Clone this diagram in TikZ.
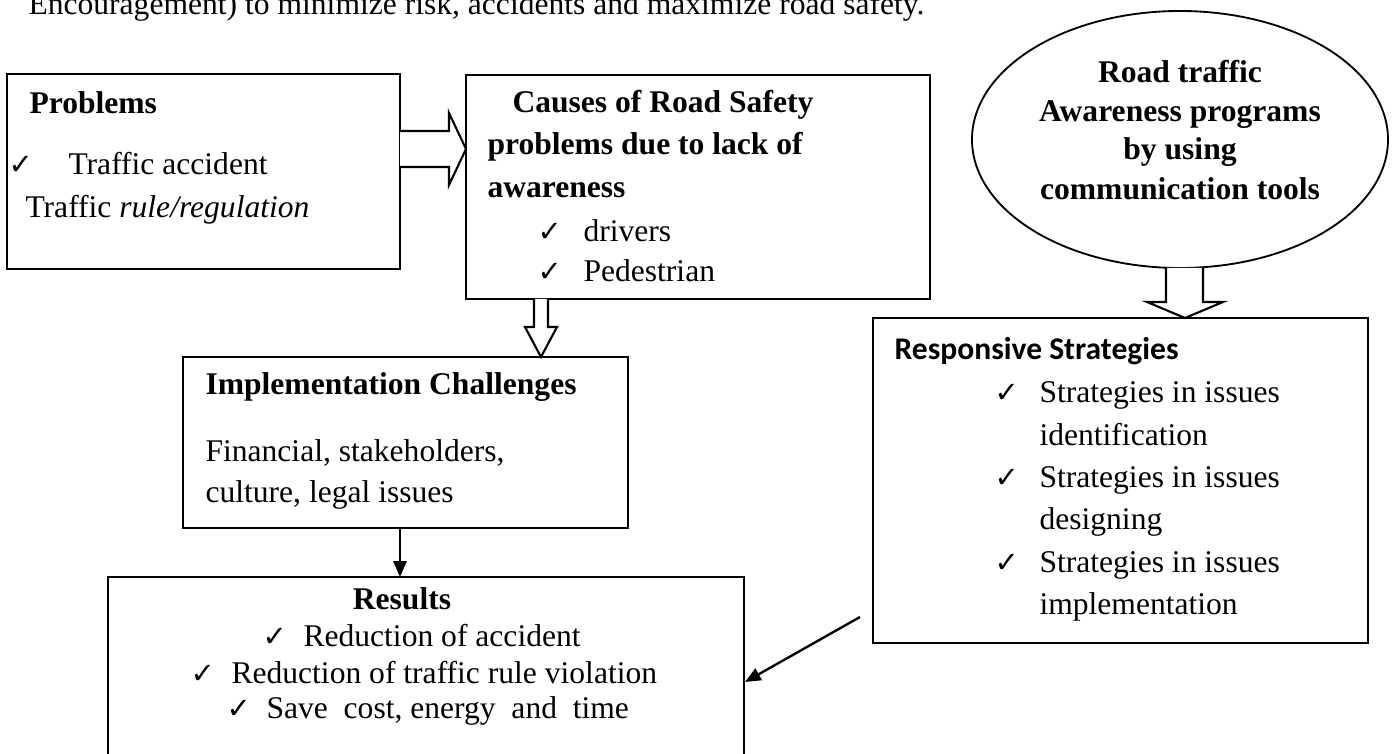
\documentclass[tikz,border=0pt]{standalone}
\usepackage{fontspec}
\setmainfont{Liberation Serif}
\newfontfamily\calib{Carlito}
\newfontfamily\dejavu{DejaVu Sans}
\usetikzlibrary{shapes.geometric,arrows.meta}
\newcommand\chk{{\dejavu\bfseries\fontsize{11}{12}\selectfont ✓}}
\def\u{0.38pt}
\begin{document}
\begin{tikzpicture}[x=0.38pt,y=-0.38pt,
  box/.style={draw,line width=0.9pt,rectangle,inner sep=0pt,outer sep=0pt,anchor=north west},
  txt/.style={inner sep=0pt,anchor=base west,font=\fontsize{12}{14}\selectfont},
  btxt/.style={inner sep=0pt,anchor=base west,font=\fontsize{12}{14}\selectfont\bfseries},
  ctxt/.style={inner sep=0pt,anchor=base,font=\fontsize{12}{14}\selectfont\bfseries},
  ck/.style={inner sep=0pt,anchor=base west},
  hollow/.style={draw,line width=0.8pt,fill=white,line join=miter},
  con/.style={draw,line width=0.9pt,-{Triangle[length=6pt,width=5pt]}}]
\useasboundingbox (0,0) rectangle (1394,754);

% top text (cut at the top edge as in the source)
\node[txt] (top) at (28,15) {Encouragement) to minimize risk, accidents and maximize road safety.};

% boxes
\node[box,minimum width=393*\u,minimum height=195*\u] (prob) at (7,74) {};
\node[box,minimum width=464*\u,minimum height=224*\u] (cause) at (466,75) {};
\node[draw,line width=0.7pt,ellipse,inner sep=0pt,minimum width=416*\u,minimum height=257*\u,fill=white] (ell) at (1180,139.5) {};
\node[box,minimum width=495*\u,minimum height=325*\u] (resp) at (873,318) {};
\node[box,minimum width=445*\u,minimum height=171*\u] (impl) at (183,357) {};
\node[box,minimum width=636*\u,minimum height=200*\u] (res) at (108,577) {};

% Problems text
\node[btxt] (p1) at (29,114) {Problems};
\node[ck] (p2c) at (8,175) {\chk};
\node[txt] (p2) at (68,175) {Traffic accident};
\node[txt] (p3) at (25,218) {Traffic \textit{rule/regulation}};

% Causes text
\node[btxt] (c1) at (512,113) {Causes of Road Safety};
\node[btxt] (c2) at (487,155) {problems due to lack of};
\node[btxt] (c3) at (487,198) {awareness};
\node[ck] (c4c) at (537,242) {\chk};
\node[txt] (c4) at (583,242) {drivers};
\node[ck] (c5c) at (537,282) {\chk};
\node[txt] (c5) at (583,282) {Pedestrian};

% Ellipse text
\node[ctxt] (e1) at (1180,83) {Road traffic};
\node[ctxt] (e2) at (1180,122) {Awareness programs};
\node[ctxt] (e3) at (1180,160) {by using};
\node[ctxt] (e4) at (1180,200) {communication tools};

% Responsive text
\node[inner sep=0pt,anchor=base west,font=\calib\fontsize{12}{14}\selectfont\bfseries] (r0) at (894,360) {Responsive Strategies};
\node[ck] (r1c) at (994,403) {\chk};
\node[txt] (r1) at (1039,403) {Strategies in issues};
\node[txt] (r2) at (1039,446) {identification};
\node[ck] (r3c) at (994,488) {\chk};
\node[txt] (r3) at (1039,488) {Strategies in issues};
\node[txt] (r4) at (1039,530) {designing};
\node[ck] (r5c) at (994,573) {\chk};
\node[txt] (r5) at (1039,573) {Strategies in issues};
\node[txt] (r6) at (1039,615) {implementation};

% Implementation text
\node[btxt] (i1) at (205,395) {Implementation Challenges};
\node[txt] (i2) at (205,462) {Financial, stakeholders,};
\node[txt] (i3) at (205,503) {culture, legal issues};

% Results text
\node[ctxt] (s0) at (402,610) {Results};
\node[ck] (s1c) at (262,647) {\chk};
\node[txt] (s1) at (303,647) {Reduction of accident};
\node[ck] (s2c) at (190,684) {\chk};
\node[txt] (s2) at (231,684) {Reduction of traffic rule violation};
\node[ck] (s3c) at (226,719) {\chk};
\node[txt] (s3) at (266,719) {Save\ \ cost, energy\ \ and\ \ time};

% hollow arrows
\draw[hollow] (400,131) -- (449,131) -- (449,113) -- (466,149) -- (449,185) -- (449,167) -- (400,167);
\draw[hollow] (534,299) -- (534,327) -- (525,327) -- (541,357) -- (557,327) -- (548,327) -- (548,299);
\draw[hollow] (1166,268) -- (1166,302) -- (1147,302) -- (1185,318) -- (1223,302) -- (1203,302) -- (1203,268);

% connectors
\coordinate (ia) at (400,528);
\coordinate (ib) at (400,577);
\draw[con] (ia) -- (ib);
\coordinate (ra) at (860,617);
\coordinate (rb) at (745,682);
\draw[con] (ra) -- (rb);
\end{tikzpicture}
\end{document}
